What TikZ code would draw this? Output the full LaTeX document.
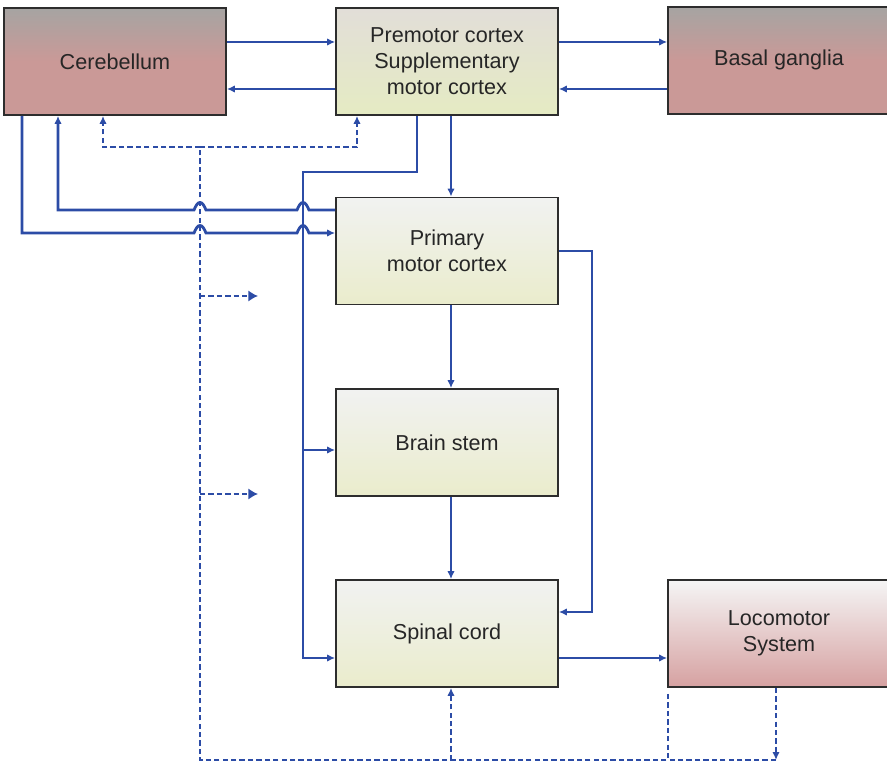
\documentclass[tikz,border=0pt]{standalone}
\usepackage{fontspec}
\setmainfont{Liberation Sans}
\usetikzlibrary{arrows.meta}

\definecolor{wireblue}{RGB}{44,76,166}
\definecolor{frame}{RGB}{45,45,45}
\definecolor{greytop}{RGB}{166,164,162}
\definecolor{rosebot}{RGB}{202,153,151}
\definecolor{pmtop}{RGB}{226,222,216}
\definecolor{pmbot}{RGB}{229,235,195}
\definecolor{paletop}{RGB}{241,242,241}
\definecolor{palebot}{RGB}{234,236,204}
\definecolor{lmtop}{RGB}{245,245,245}
\definecolor{lmbot}{RGB}{214,161,161}

% small bridge where a line crosses another one
\newcommand{\hopr}[2]{-- (#1-6,#2) .. controls (#1-2,#2-10) and (#1+2,#2-10) .. (#1+6,#2)}
\newcommand{\hopl}[2]{-- (#1+6,#2) .. controls (#1+2,#2-10) and (#1-2,#2-10) .. (#1-6,#2)}

\begin{document}
\begin{tikzpicture}[x=0.02cm, y=-0.02cm,
  box/.style={rectangle, draw=frame, line width=1pt, minimum width=4.44cm,
    minimum height=2.14cm, inner sep=0pt, align=center, text=black!85,
    font=\fontsize{12.3}{14.7}\selectfont},
  pinkbox/.style={box, top color=greytop, bottom color=rosebot, middle color=rosebot},
  pmbox/.style={box, top color=pmtop, bottom color=pmbot},
  palebox/.style={box, top color=paletop, bottom color=palebot},
  lmbox/.style={box, top color=lmtop, bottom color=lmbot},
  blueline/.style={draw=wireblue, line width=1.6pt},
  dashline/.style={blueline, dash pattern=on 3pt off 1.8pt},
  arr/.style={-{Latex[length=4.5pt,width=4.2pt]}},
  bigarr/.style={-{Latex[length=5.5pt,width=6.5pt]}}]

\useasboundingbox (0,0) rectangle (887,763);

\node[pinkbox] (cb) at (115,61.5) {Cerebellum};
\node[pmbox] (pm) at (447,61.5) {Premotor cortex\\Supplementary\\motor cortex};
\node[pinkbox] (bg) at (779,60.5) {\raisebox{0.1cm}{Basal ganglia}};
\node[palebox] (m1) at (447,251) {Primary\\motor cortex};
\node[palebox] (bs) at (447,442.5) {Brain stem};
\node[palebox] (sc) at (447,633.5) {Spinal cord};
\node[lmbox] (lm) at (779,633.5) {Locomotor\\System};

\coordinate (out1) at (258,296);
\coordinate (out2) at (258,494);

% top row
\draw[blueline, arr] (cb.east |- 0,42) -- (pm.west |- 0,42);
\draw[blueline, arr] (pm.west |- 0,89) -- (cb.east |- 0,89);
\draw[blueline, arr] (pm.east |- 0,42) -- (bg.west |- 0,42);
\draw[blueline, arr] (bg.west |- 0,89) -- (pm.east |- 0,89);

% down the middle column
\draw[blueline, arr] (pm.south -| 451,0) -- (m1.north -| 451,0);
\draw[blueline, arr] (m1.south -| 451,0) -- (bs.north -| 451,0);
\draw[blueline, arr] (bs.south -| 451,0) -- (sc.north -| 451,0);
\draw[blueline, arr] (sc.east |- 0,658) -- (lm.west |- 0,658);
\draw[blueline, arr] (m1.east) -- (592,251) |- (sc.east |- 0,612);

% premotor to brain stem and spinal cord
\draw[blueline, arr] (pm.south -| 417,0) |- (303,172) |- (sc.west |- 0,658);
\draw[blueline, arr] (303,450) -- (bs.west |- 0,450);

% cerebellum <-> primary motor cortex
\draw[blueline, arr] (cb.south -| 22,0) -- (22,233) \hopr{200}{233} \hopr{303}{233} -- (m1.west |- 0,233);
\draw[blueline, arr] (m1.west |- 0,210) \hopl{303}{210} \hopl{200}{210} -- (58,210) -- (cb.south -| 58,0);

% feedback
\draw[dashline] (668,694) -- (668,760);
\draw[dashline, arr] (lm.south -| 776,0) -- (776,760);
\draw[dashline] (776,760) -- (200,760) -- (200,147);
\draw[dashline, arr] (451,760) -- (sc.south -| 451,0);
\draw[dashline, arr] (200,147) -| (cb.south -| 103,0);
\draw[dashline, arr] (200,147) -| (pm.south -| 357,0);
\draw[dashline, bigarr] (200,296) -- (out1);
\draw[dashline, bigarr] (200,494) -- (out2);

\end{tikzpicture}
\end{document}
